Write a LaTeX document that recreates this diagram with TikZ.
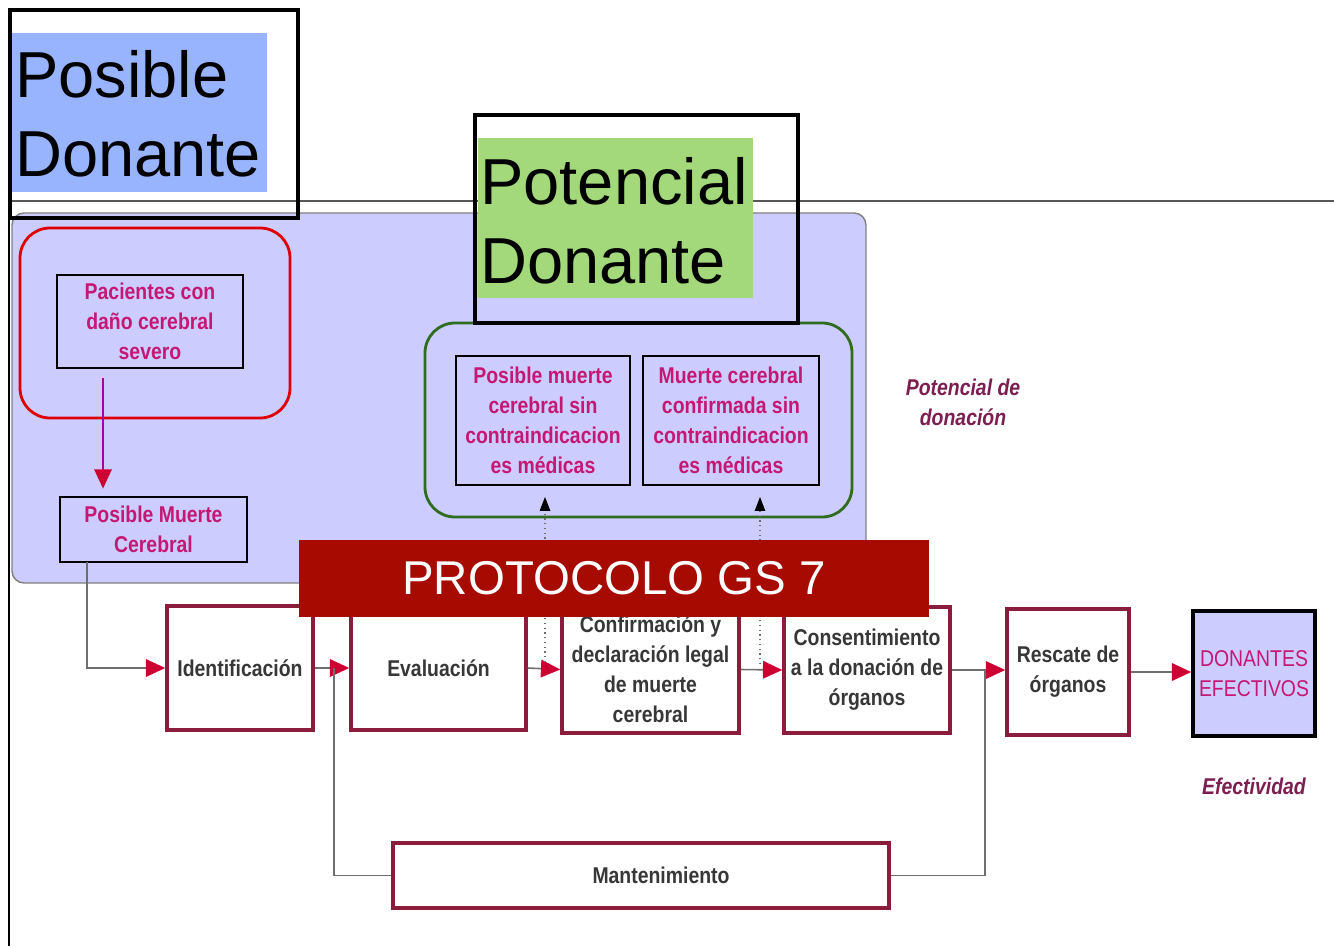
\documentclass[tikz,border=0pt]{standalone}
\usepackage{fontspec}
\setmainfont{Liberation Sans}
\newfontfamily\narrowfont[FakeStretch=0.85]{Liberation Sans}
\usetikzlibrary{arrows.meta}

\definecolor{lavender}{RGB}{204,204,255}
\definecolor{posblue}{RGB}{153,180,255}
\definecolor{potgreen}{RGB}{163,217,122}
\definecolor{bannerred}{RGB}{166,10,0}
\definecolor{boxred}{RGB}{140,28,60}
\definecolor{tipred}{RGB}{204,0,51}
\definecolor{pinktext}{RGB}{196,24,116}
\definecolor{textgray}{RGB}{55,55,55}
\definecolor{notetext}{RGB}{125,30,80}
\definecolor{linegray}{RGB}{110,110,110}
\definecolor{ringred}{RGB}{222,0,0}
\definecolor{ringgreen}{RGB}{48,108,30}

\begin{document}
\begin{tikzpicture}[x=0.02cm, y=-0.02cm,
        bigtext/.style={font=\fontsize{37}{45}\selectfont, align=left, inner sep=0pt, anchor=west},
        darkbox/.style={draw=black, line width=1.6pt, align=center, inner sep=1pt,
            font=\narrowfont\bfseries\fontsize{13}{17}\selectfont, text=pinktext},
        stepbox/.style={draw=boxred, line width=2pt, fill=white, align=center, inner sep=1pt,
            font=\narrowfont\bfseries\fontsize{13}{17}\selectfont, text=textgray},
        note/.style={align=center, font=\narrowfont\bfseries\itshape\fontsize{13}{17}\selectfont, text=notetext},
        flow/.style={draw=linegray, line width=0.9pt, -{Triangle[length=11pt, width=10pt, color=tipred]}},
        hint/.style={draw=linegray, line width=0.7pt, dotted, -{Triangle[length=8pt, width=6pt, color=black]}},
        frame/.style={draw=black, line width=2.2pt},
        ring/.style={line width=1.6pt, rounded corners=0.6cm}]
        \useasboundingbox (0,0) rectangle (1334,946);

        \draw[linegray!80!black, line width=1.5pt] (9,201) -- (1334,201);
        \draw[black, line width=1.2pt] (9,200) -- (9,946);
        \draw[fill=lavender, draw=gray, line width=0.8pt, rounded corners=0.24cm] (12,213) rectangle (866,583);

        \draw[frame] (10,10) rectangle (298,218);
        \fill[posblue] (12,33) rectangle (267,192);
        \node[bigtext] (posible) at (15,114) {Posible\\Donante};

        \draw[ring, draw=ringred] (20,228) rectangle (290,418);
        \node[darkbox, minimum width=3.72cm, minimum height=1.86cm] (pacientes) at (150,321.5) {Pacientes con\\daño cerebral\\severo};
        \node[darkbox, minimum width=3.74cm, minimum height=1.3cm] (pmc) at (153.5,529.5) {Posible Muerte\\Cerebral};
        \coordinate (pacout) at (103,378);
        \draw[flow, draw=violet!70!magenta, shorten >=4pt] (pacout) -- (pacout |- pmc.north);

        \draw[ring, draw=ringgreen] (425,323) rectangle (852,517);
        \node[darkbox, minimum width=3.48cm, minimum height=2.58cm] (pmsin) at (543,420.5) {Posible muerte\\cerebral sin\\contraindicacion\\es médicas};
        \node[darkbox, minimum width=3.52cm, minimum height=2.58cm] (mcsin) at (731,420.5) {Muerte cerebral\\confirmada sin\\contraindicacion\\es médicas};

        \draw[frame] (475,115) rectangle (798,323);
        \fill[potgreen] (478,138) rectangle (753,298);
        \node[bigtext] (potencial) at (480,221) {Potencial\\Donante};

        \node[note] (potnote) at (963,402) {Potencial de\\donación};

        \node[stepbox, minimum width=2.92cm, minimum height=2.48cm] (ident) at (240,668) {Identificación};
        \node[stepbox, minimum width=3.5cm, minimum height=2.48cm] (eval) at (438.5,668) {Evaluación};
        \node[stepbox, minimum width=3.54cm, minimum height=2.54cm] (confirm) at (650.5,669.5) {Confirmación y\\declaración legal\\de muerte\\cerebral};
        \node[stepbox, minimum width=3.32cm, minimum height=2.52cm] (consent) at (867,670) {Consentimiento\\a la donación de\\órganos};
        \node[stepbox, minimum width=2.44cm, minimum height=2.52cm] (rescate) at (1068,672) {Rescate de\\órganos};
        \node[stepbox, draw=black, fill=lavender, text=pinktext, font=\narrowfont\fontsize{13}{17}\selectfont,
            minimum width=2.44cm, minimum height=2.5cm] (donantes) at (1254,673.5) {DONANTES\\EFECTIVOS};
        \node[stepbox, minimum width=9.92cm, minimum height=1.3cm] (manten) at (641,875.5) {\hspace*{0.8cm}Mantenimiento};
        \node[note] (efect) at (1254,786) {Efectividad};

        \coordinate (pmcout) at (87,562);
        \coordinate (join1) at (334,668);
        \coordinate (join2) at (985,670);
        \coordinate (dot1) at (545,662);
        \coordinate (dot2) at (760,664);

        \draw[flow] (pmcout) |- (ident.west);
        \draw[flow] (ident.east) -- (eval.west);
        \draw[flow] (eval.east) -- (confirm.west);
        \draw[flow] (confirm.east) -- (consent.west);
        \draw[flow] (consent.east) -- (consent.east -| rescate.west);
        \draw[flow] (rescate.east) -- (rescate.east -| donantes.west);
        \draw[draw=linegray, line width=0.9pt] (manten.west) -| (join1);
        \draw[draw=linegray, line width=0.9pt] (manten.east) -| (join2);

        \draw[hint, shorten >=6pt] (dot1) -- (dot1 |- pmsin.south);
        \draw[hint, shorten >=6pt] (dot2) -- (dot2 |- mcsin.south);

        \node[fill=bannerred, text=white, font=\fontsize{27}{32}\selectfont,
            minimum width=12.6cm, minimum height=1.54cm, inner sep=0pt] (banner) at (614,578.5) {PROTOCOLO GS 7};
\end{tikzpicture}
\end{document}
